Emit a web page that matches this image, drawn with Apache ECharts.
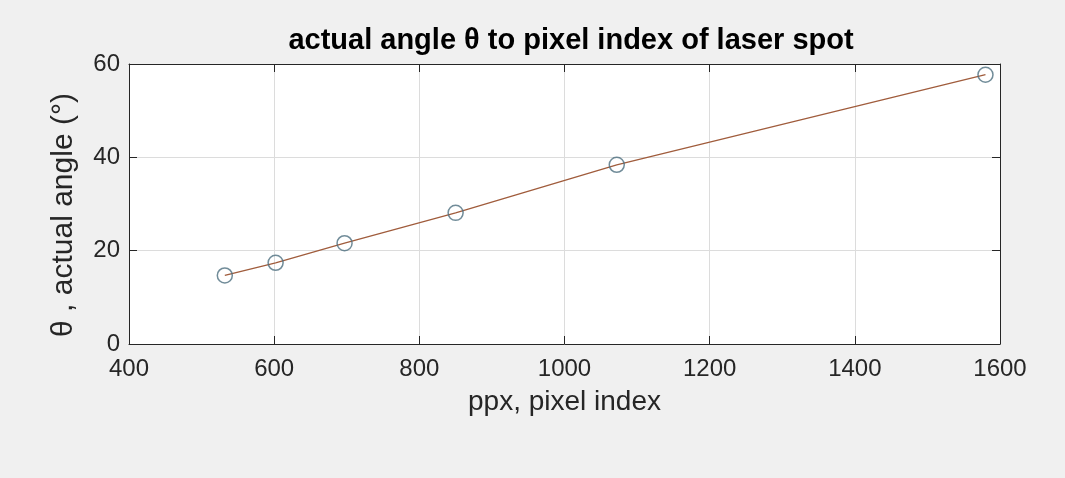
<!DOCTYPE html>
<html>
<head>
<meta charset="utf-8">
<script src="https://cdn.jsdelivr.net/npm/echarts@6/dist/echarts.min.js"></script>
<style>
html,body{margin:0;padding:0;background:#f0f0f0;}
#c{width:1065px;height:478px;}
</style>
</head>
<body>
<div id="c"></div>
<script>
const pixelIndex = [532, 602, 697, 850, 1072, 1580];
const actualAngle = [14.7, 17.4, 21.6, 28.1, 38.4, 57.7];
const xTicks = [400, 600, 800, 1000, 1200, 1400, 1600];
const yTicks = [0, 20, 40, 60];

const pts = pixelIndex.map((x, i) => [x, actualAngle[i]]);
const FONT = '"Liberation Sans", Arial, Helvetica, sans-serif';
const axisCol = '#262626';

const chart = echarts.init(document.getElementById('c'), null, {renderer: 'canvas'});
const xBase = {
  type: 'value', min: xTicks[0], max: xTicks[xTicks.length - 1], interval: 200,
  axisLine: {show: true, onZero: false, lineStyle: {color: axisCol, width: 1}},
  axisTick: {show: true, inside: true, length: 8, lineStyle: {color: axisCol}}
};
const yBase = {
  type: 'value', min: yTicks[0], max: yTicks[yTicks.length - 1], interval: 20,
  axisLine: {show: true, onZero: false, lineStyle: {color: axisCol, width: 1}},
  axisTick: {show: true, inside: true, length: 8, lineStyle: {color: axisCol}}
};
chart.setOption({
  backgroundColor: '#f0f0f0',
  animation: false,
  title: {
    text: 'actual angle θ to pixel index of laser spot',
    left: 566, top: 21, textAlign: 'center',
    textStyle: {fontFamily: FONT, fontSize: 29, fontWeight: 'bold', color: '#000'}
  },
  grid: {left: 129, right: 65, top: 64, bottom: 134, show: true, backgroundColor: '#ffffff', borderWidth: 0},
  xAxis: [
    Object.assign({}, xBase, {
      position: 'bottom',
      name: 'ppx, pixel index', nameLocation: 'middle', nameGap: 44,
      nameTextStyle: {fontFamily: FONT, fontSize: 28, color: axisCol},
      axisLabel: {fontFamily: FONT, fontSize: 24, color: axisCol, margin: 13, formatter: v => String(v)},
      splitLine: {show: true, lineStyle: {color: '#dcdcdc', width: 1}}
    }),
    Object.assign({}, xBase, {
      position: 'top', axisLabel: {show: false}, splitLine: {show: false}
    })
  ],
  yAxis: [
    Object.assign({}, yBase, {
      position: 'left',
      name: 'θ , actual angle (°)', nameLocation: 'middle', nameGap: 50,
      nameTextStyle: {fontFamily: FONT, fontSize: 30, color: axisCol, padding: [0, 22, 0, 0]},
      axisLabel: {fontFamily: FONT, fontSize: 24, color: axisCol, margin: 9, formatter: v => String(v)},
      splitLine: {show: true, lineStyle: {color: '#dcdcdc', width: 1}}
    }),
    Object.assign({}, yBase, {
      position: 'right', axisLabel: {show: false}, splitLine: {show: false}
    })
  ],
  series: [
    {
      type: 'line', data: pts, xAxisIndex: 0, yAxisIndex: 0,
      showSymbol: false, symbol: 'none',
      lineStyle: {color: '#a05c3c', width: 1.3}, z: 2
    },
    {
      type: 'scatter', data: pts, xAxisIndex: 0, yAxisIndex: 0,
      symbol: 'circle', symbolSize: 15,
      itemStyle: {color: 'rgba(0,0,0,0)', borderColor: '#4d6f80', borderWidth: 1.5}, z: 3
    }
  ]
});
</script>
</body>
</html>
